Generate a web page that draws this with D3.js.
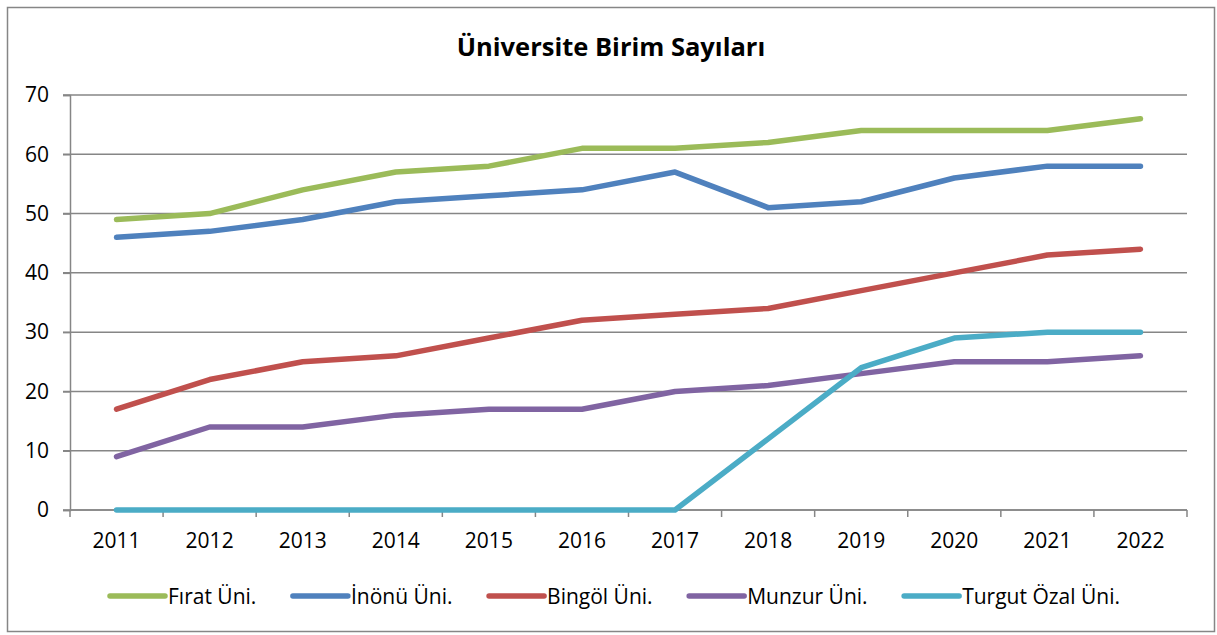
<!DOCTYPE html>
<html>
<head>
<meta charset="utf-8">
<script src="https://cdn.jsdelivr.net/npm/d3@7"></script>
<style>
  body { margin: 0; background: #fff; }
  text { font-family: "Open Sans", Lato, sans-serif; fill: #000; }
</style>
</head>
<body>
<div id="chart"></div>
<script>
// Data
var years = ["2011", "2012", "2013", "2014", "2015", "2016", "2017", "2018", "2019", "2020", "2021", "2022"];
var seriesNames = ["Fırat Üni.", "İnönü Üni.", "Bingöl Üni.", "Munzur Üni.", "Turgut Özal Üni."];
var firat = [49, 50, 54, 57, 58, 61, 61, 62, 64, 64, 64, 66];
var inonu = [46, 47, 49, 52, 53, 54, 57, 51, 52, 56, 58, 58];
var bingol = [17, 22, 25, 26, 29, 32, 33, 34, 37, 40, 43, 44];
var munzur = [9, 14, 14, 16, 17, 17, 20, 21, 23, 25, 25, 26];
var turgutOzal = [0, 0, 0, 0, 0, 0, 0, 12, 24, 29, 30, 30];
var yTicks = [0, 10, 20, 30, 40, 50, 60, 70];
var colors = ["#9BBB59", "#4F81BD", "#C0504D", "#8064A2", "#4BACC6"];

var seriesValues = [firat, inonu, bingol, munzur, turgutOzal];

// Define svg dimension
var svgWidth = 1217;
var svgHeight = 635;

// Plot area
var marginLeft = 70;
var marginTop = 95;
var plotRight = 1187;
var plotBottom = 510;
var chartWidth = plotRight - marginLeft;
var chartHeight = plotBottom - marginTop;

var svg = d3.select("#chart")
  .append("svg")
  .attr("width", svgWidth)
  .attr("height", svgHeight);

// Outer border
svg.append("rect")
  .attr("x", 7.5)
  .attr("y", 7.5)
  .attr("width", 1207)
  .attr("height", 624)
  .attr("fill", "#fff")
  .attr("stroke", "#868686")
  .attr("stroke-width", 1.5);

// Title
svg.append("text")
  .attr("x", 611)
  .attr("y", 56)
  .attr("text-anchor", "middle")
  .attr("font-size", 25.5)
  .attr("font-weight", "bold")
  .text("Üniversite Birim Sayıları");

var chartGroup = svg.append("g")
  .attr("transform", `translate(${marginLeft}, ${marginTop})`);

// Scales
var xScale = d3.scaleBand()
  .domain(years)
  .range([0, chartWidth]);

var yScale = d3.scaleLinear()
  .domain([0, 70])
  .range([chartHeight, 0]);

// Gridlines
chartGroup.append("g")
  .selectAll("line")
  .data(yTicks)
  .enter()
  .append("line")
  .attr("x1", -7)
  .attr("x2", chartWidth)
  .attr("y1", d => yScale(d))
  .attr("y2", d => yScale(d))
  .attr("stroke", "#868686")
  .attr("stroke-width", 1.5);

// Y axis
var yAxis = d3.axisLeft(yScale)
  .tickValues(yTicks)
  .tickSize(7)
  .tickPadding(14);

var yAxisG = chartGroup.append("g").call(yAxis);
yAxisG.select(".domain").attr("stroke", "#868686").attr("stroke-width", 1.5);
yAxisG.selectAll(".tick line").attr("stroke", "#868686").attr("stroke-width", 1.5);
yAxisG.selectAll("text")
  .attr("font-size", 21)
  .attr("font-family", "'Open Sans', sans-serif")
  .attr("fill", "#000");

// X axis: ticks at band boundaries
var xAxisG = chartGroup.append("g")
  .attr("transform", `translate(0, ${chartHeight})`);

xAxisG.append("line")
  .attr("x1", 0)
  .attr("x2", chartWidth)
  .attr("stroke", "#868686")
  .attr("stroke-width", 1.5);

var boundaries = years.map(d => xScale(d)).concat([chartWidth]);
xAxisG.selectAll(".xtick")
  .data(boundaries)
  .enter()
  .append("line")
  .attr("class", "xtick")
  .attr("x1", d => d)
  .attr("x2", d => d)
  .attr("y1", 0)
  .attr("y2", 7)
  .attr("stroke", "#868686")
  .attr("stroke-width", 1.5);

xAxisG.selectAll(".xlabel")
  .data(years)
  .enter()
  .append("text")
  .attr("class", "xlabel")
  .attr("x", d => xScale(d) + xScale.bandwidth() / 2)
  .attr("y", 38)
  .attr("text-anchor", "middle")
  .attr("font-size", 21)
  .text(d => d);

// Lines
var line = d3.line()
  .x((d, i) => xScale(years[i]) + xScale.bandwidth() / 2)
  .y(d => yScale(d));

chartGroup.selectAll(".series")
  .data(seriesValues)
  .enter()
  .append("path")
  .attr("class", "series")
  .attr("d", d => line(d))
  .attr("fill", "none")
  .attr("stroke", (d, i) => colors[i])
  .attr("stroke-width", 5.5)
  .attr("stroke-linecap", "round")
  .attr("stroke-linejoin", "round");

// Legend
var legend = svg.append("g");
var legendY = 596;
var swatch = 55;
var gap = 3;
var legendLeft = 110;
var legendRight = 1120;

var items = legend.selectAll(".item")
  .data(seriesNames)
  .enter()
  .append("g")
  .attr("class", "item");

items.append("line")
  .attr("x1", 0)
  .attr("x2", swatch)
  .attr("y1", 0)
  .attr("y2", 0)
  .attr("stroke", (d, i) => colors[i])
  .attr("stroke-width", 5.5)
  .attr("stroke-linecap", "round");

items.append("text")
  .attr("x", swatch + gap)
  .attr("y", 7.5)
  .attr("font-size", 21)
  .text(d => d);

var widths = [];
items.each(function() {
  widths.push(this.getBBox().width);
});
var itemGap = (legendRight - legendLeft - d3.sum(widths)) / (widths.length - 1);
var offs = [];
var acc = legendLeft;
widths.forEach(function(w) {
  offs.push(acc);
  acc += w + itemGap;
});
items.attr("transform", (d, i) => `translate(${offs[i]}, ${legendY})`);
</script>
</body>
</html>
